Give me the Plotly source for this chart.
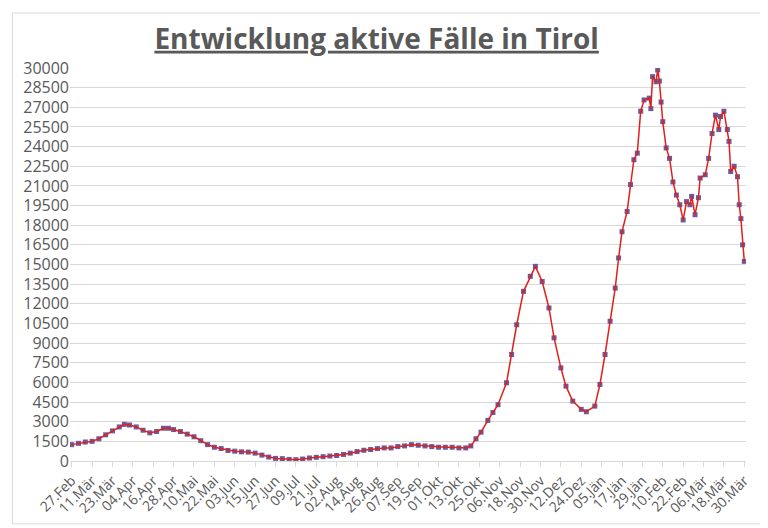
import plotly.graph_objects as go

tick_labels = ["27.Feb","11.Mär","23.Mär","04.Apr","16.Apr","28.Apr","10.Mai","22.Mai","03.Jun","15.Jun",
               "27.Jun","09.Jul","21.Jul","02.Aug","14.Aug","26.Aug","07.Sep","19.Sep","01.Okt","13.Okt",
               "25.Okt","06.Nov","18.Nov","30.Nov","12.Dez","24.Dez","05.Jän","17.Jän","29.Jän","10.Feb",
               "22.Feb","06.Mär","18.Mär","30.Mär"]
tick_days = [i * 12 for i in range(len(tick_labels))]

days = [0,4,8,12,16,20,24,28,31,34,38,42,46,50,54,57,60,64,68,72,76,80,84,88,92,96,100,104,108,112,
        116,120,124,128,132,136,140,144,148,152,156,160,164,168,172,176,180,184,188,192,196,200,204,208,
        212,216,220,224,228,232,235,238,241,245,248,251,256,259,262,266,270,273,277,281,284,288,291,295,
        300,303,308,311,314,317,320,322,324,327,329,331,333,335,337,340,341,342,344,345,346,347,348,350,
        352,354,356,358,360,362,364,365,367,369,370,373,375,377,379,381,382,384,386,387,388,390,392,393,
        394,395,396]
active = [1250,1350,1450,1500,1700,2000,2300,2600,2800,2750,2600,2350,2150,2250,2500,2500,2400,2250,2050,1850,
          1550,1250,1050,950,800,750,700,680,600,450,300,200,180,120,100,150,230,280,330,380,420,500,600,720,
          820,880,950,1000,1000,1100,1150,1250,1200,1150,1100,1050,1050,1050,1000,1000,1150,1700,2200,3100,
          3700,4300,5970,8130,10400,12950,14100,14860,13700,11680,9400,7110,5715,4570,3940,3760,4190,5840,
          8130,10670,13200,15500,17500,19050,21100,23000,23500,26700,27560,27700,26900,29340,28950,29850,
          29000,27400,25900,23900,23100,21300,20300,19560,18400,19800,19560,20200,18800,20100,21600,21850,
          23100,25000,26400,25300,26300,26700,25300,24400,22100,22500,21700,19560,18500,16500,15240]

fig = go.Figure()
fig.add_trace(go.Scatter(x=days, y=active, mode="markers",
                         marker=dict(symbol="square", size=5, color="#6a5aa0"), showlegend=False))
fig.add_trace(go.Scatter(x=days, y=active, mode="lines",
                         line=dict(color="#e0201c", width=1.5), showlegend=False))

fig.update_layout(
    width=768, height=528, paper_bgcolor="white", plot_bgcolor="white",
    margin=dict(l=62, r=30, t=60, b=75),
    title=dict(text="<b><u>Entwicklung aktive Fälle in Tirol</u></b>", x=0.48, xanchor="center",
               y=0.96, font=dict(family="Open Sans", size=28, color="#595959")),
    font=dict(family="Open Sans", color="#595959"),
    xaxis=dict(range=[-1, 397], tickvals=tick_days, ticktext=tick_labels, tickangle=-45,
               showgrid=False, zeroline=False, showline=True, linecolor="#d9d9d9",
               ticks="outside", tickcolor="#d9d9d9", ticklen=5, tickfont=dict(size=14)),
    yaxis=dict(range=[0, 30000], dtick=1500, tickformat="d", showgrid=True, gridcolor="#d9d9d9",
               zeroline=False, tickfont=dict(size=16)),
    shapes=[dict(type="rect", xref="paper", yref="paper", x0=-0.085, x1=1.04, y0=-0.16, y1=1.14,
                 line=dict(color="#d9d9d9", width=1))],
)
fig.write_html("out.html")
